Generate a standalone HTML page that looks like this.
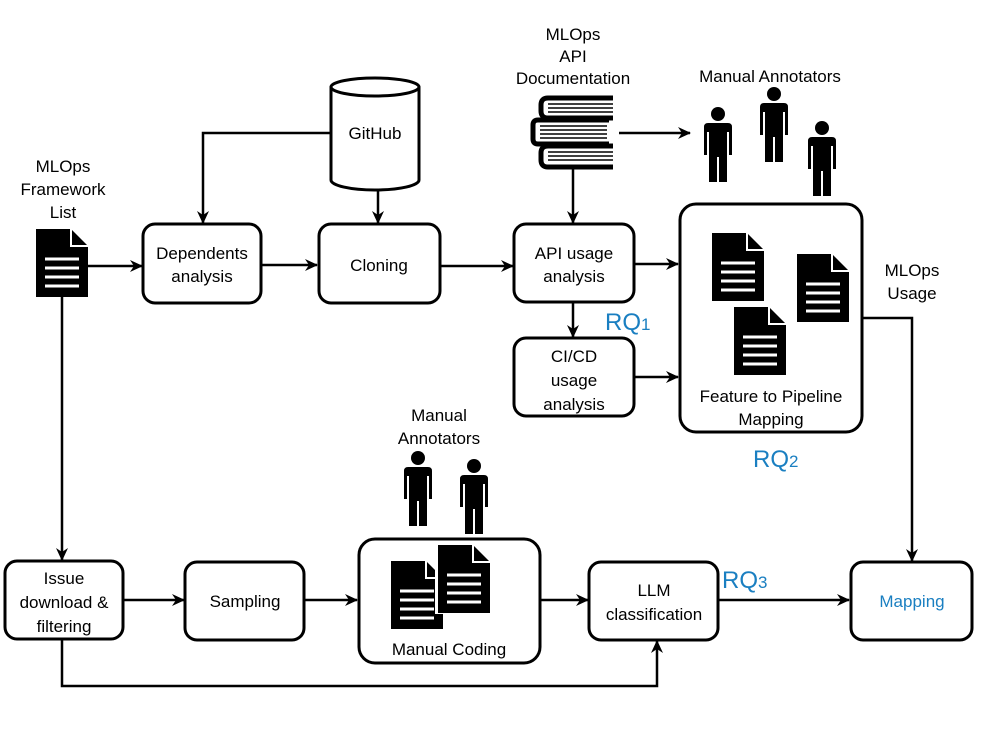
<!DOCTYPE html>
<html><head><meta charset="utf-8"><style>
body{margin:0;background:#fff}
text{font-family:"Liberation Sans",sans-serif;font-size:17px;fill:#000}
.b{fill:#fff;stroke:#000;stroke-width:3}
.l{fill:none;stroke:#000;stroke-width:2.5}
.rq{fill:#1a7fc1;font-size:24px}
</style></head><body>
<svg width="996" height="725" viewBox="0 0 996 725" xmlns="http://www.w3.org/2000/svg">
<defs>
<marker id="a" markerWidth="13" markerHeight="12" refX="12" refY="6" orient="auto" markerUnits="userSpaceOnUse"><path d="M0,0 L13,6 L0,12 L4,6 z" fill="#000"/></marker>
<g id="doc"><path d="M0,0 H35 L52,17 V68 H0 z" fill="#000"/><path d="M35,0 V17 H52" fill="none" stroke="#fff" stroke-width="2"/><g stroke="#fff" stroke-width="3"><line x1="9" y1="30" x2="43" y2="30"/><line x1="9" y1="39" x2="43" y2="39"/><line x1="9" y1="48" x2="43" y2="48"/><line x1="9" y1="57" x2="43" y2="57"/></g></g>
<g id="p"><circle cx="14" cy="7" r="7" fill="#000"/><path d="M4,16 H24 Q28,16 28,20 V48 H25 V25 H23 V75 H15 V50 H13 V75 H5 V25 H3 V48 H0 V20 Q0,16 4,16 z" fill="#000"/><line x1="14" y1="50" x2="14" y2="76" stroke="#fff" stroke-width="2"/></g>
</defs>

<g class="l">
<line x1="88" y1="266" x2="142" y2="266" marker-end="url(#a)"/>
<line x1="262" y1="265" x2="317" y2="265" marker-end="url(#a)"/>
<line x1="441" y1="266" x2="513" y2="266" marker-end="url(#a)"/>
<polyline points="331,133 203,133 203,223" marker-end="url(#a)"/>
<line x1="378" y1="190" x2="378" y2="223" marker-end="url(#a)"/>
<line x1="573" y1="168" x2="573" y2="223" marker-end="url(#a)"/>
<line x1="619" y1="133" x2="690" y2="133" marker-end="url(#a)"/>
<line x1="573" y1="303" x2="573" y2="337" marker-end="url(#a)"/>
<line x1="635" y1="264" x2="678" y2="264" marker-end="url(#a)"/>
<line x1="635" y1="377" x2="678" y2="377" marker-end="url(#a)"/>
<polyline points="862,318 912,318 912,561" marker-end="url(#a)"/>
<line x1="62" y1="297" x2="62" y2="560" marker-end="url(#a)"/>
<polyline points="62,640 62,686 657,686 657,641" marker-end="url(#a)"/>
<line x1="124" y1="600" x2="184" y2="600" marker-end="url(#a)"/>
<line x1="305" y1="600" x2="357" y2="600" marker-end="url(#a)"/>
<line x1="541" y1="600" x2="588" y2="600" marker-end="url(#a)"/>
<line x1="719" y1="600" x2="849" y2="600" marker-end="url(#a)"/>
</g>

<path d="M331,87 V180 A44,10 0 0 0 419,180 V87" class="b"/>
<ellipse cx="375" cy="87" rx="44" ry="9" class="b" stroke-width="4"/>
<text x="375" y="139" text-anchor="middle">GitHub</text>

<rect x="143" y="224" width="118" height="79" rx="12" class="b"/>
<text x="202" y="259" text-anchor="middle">Dependents</text><text x="202" y="282" text-anchor="middle">analysis</text>
<rect x="319" y="224" width="121" height="79" rx="12" class="b"/>
<text x="379" y="271" text-anchor="middle">Cloning</text>
<rect x="514" y="224" width="120" height="78" rx="12" class="b"/>
<text x="574" y="259" text-anchor="middle">API usage</text><text x="574" y="282" text-anchor="middle">analysis</text>
<rect x="514" y="338" width="120" height="78" rx="12" class="b"/>
<text x="574" y="362" text-anchor="middle">CI/CD</text><text x="574" y="386" text-anchor="middle">usage</text><text x="574" y="410" text-anchor="middle">analysis</text>
<rect x="680" y="204" width="182" height="228" rx="16" class="b"/>
<use href="#doc" x="712" y="233"/><use href="#doc" x="797" y="254"/><use href="#doc" x="734" y="307"/>
<text x="771" y="402" text-anchor="middle">Feature to Pipeline</text><text x="771" y="425" text-anchor="middle">Mapping</text>
<rect x="5" y="561" width="118" height="78" rx="12" class="b"/>
<text x="64" y="584" text-anchor="middle">Issue</text><text x="64" y="608" text-anchor="middle">download &amp;</text><text x="64" y="632" text-anchor="middle">filtering</text>
<rect x="185" y="562" width="119" height="78" rx="12" class="b"/>
<text x="245" y="607" text-anchor="middle">Sampling</text>
<rect x="359" y="539" width="181" height="124" rx="16" class="b"/>
<use href="#doc" x="391" y="561"/>
<path d="M435,543 H474 L493,562 V614 H435 z" fill="#fff"/>
<use href="#doc" x="438" y="545"/>
<text x="449" y="655" text-anchor="middle">Manual Coding</text>
<rect x="589" y="562" width="129" height="78" rx="12" class="b"/>
<text x="654" y="596" text-anchor="middle">LLM</text><text x="654" y="620" text-anchor="middle">classification</text>
<rect x="851" y="562" width="121" height="78" rx="12" class="b"/>
<text x="912" y="607" text-anchor="middle" style="fill:#1a7fc1">Mapping</text>

<use href="#doc" x="36" y="229"/>
<text x="63" y="172" text-anchor="middle">MLOps</text><text x="63" y="195" text-anchor="middle">Framework</text><text x="63" y="218" text-anchor="middle">List</text>

<g>
<path d="M613,98 H548 Q541,98 541,105 V111 Q541,118 548,118 H613" fill="none" stroke="#000" stroke-width="5"/>
<path d="M609,120 H538 Q533,120 533,125 V139 Q533,144 538,144 H609" fill="none" stroke="#000" stroke-width="5"/>
<path d="M613,146 H548 Q541,146 541,153 V160 Q541,167 548,167 H613" fill="none" stroke="#000" stroke-width="5"/>
<g stroke="#000" stroke-width="1.5"><line x1="548" y1="104" x2="613" y2="104"/><line x1="548" y1="108" x2="613" y2="108"/><line x1="548" y1="112" x2="613" y2="112"/>
<line x1="540" y1="126" x2="607" y2="126"/><line x1="540" y1="130" x2="607" y2="130"/><line x1="540" y1="134" x2="607" y2="134"/><line x1="540" y1="138" x2="607" y2="138"/>
<line x1="548" y1="152" x2="613" y2="152"/><line x1="548" y1="156" x2="613" y2="156"/><line x1="548" y1="160" x2="613" y2="160"/></g>
</g>
<text x="573" y="40" text-anchor="middle">MLOps</text><text x="573" y="62" text-anchor="middle">API</text><text x="573" y="84" text-anchor="middle">Documentation</text>

<use href="#p" x="704" y="107"/><use href="#p" x="760" y="87"/><use href="#p" x="808" y="121"/>
<text x="770" y="82" text-anchor="middle">Manual Annotators</text>
<use href="#p" x="404" y="451"/><use href="#p" x="460" y="459"/>
<text x="439" y="421" text-anchor="middle">Manual</text><text x="439" y="444" text-anchor="middle">Annotators</text>

<text x="912" y="276" text-anchor="middle">MLOps</text><text x="912" y="299" text-anchor="middle">Usage</text>

<text x="605" y="330" class="rq">RQ<tspan font-size="17">1</tspan></text>
<text x="753" y="467" class="rq">RQ<tspan font-size="17">2</tspan></text>
<text x="722" y="588" class="rq">RQ<tspan font-size="17">3</tspan></text>
</svg>
</body></html>
